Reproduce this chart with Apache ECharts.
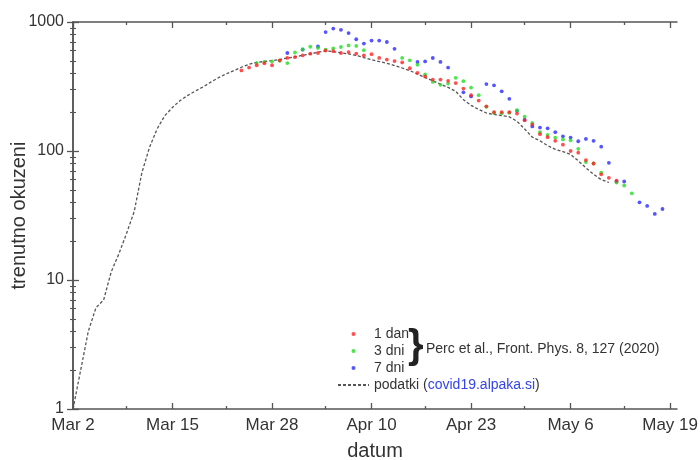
<!DOCTYPE html>
<html><head><meta charset="utf-8">
<script src="https://cdn.jsdelivr.net/npm/echarts@6/dist/echarts.min.js"></script>
<style>html,body{margin:0;padding:0;background:#fff}#c{width:700px;height:460px}</style>
</head><body><div id="c"></div>
<script>
// ---- data (x = days since Mar 2) ----
const xTickLabels = ['Mar 2', 'Mar 15', 'Mar 28', 'Apr 10', 'Apr 23', 'May 6', 'May 19'];
const xMajorTicks = [0, 13, 26, 39, 52, 65, 78];
const xMinorTicks = [7, 20, 33, 46, 59, 72];
const yMajorTicks = [1, 10, 100, 1000];
const yTickLabels = ['1', '10', '100', '1000'];

const observedStart = 0;
const observed = [1, 2, 4, 6.1, 7, 11.6, 16, 23, 34, 68, 107, 149, 188, 218, 246, 270, 292, 314, 342, 370, 396, 420, 446, 470, 486, 494, 502, 512, 525, 538, 552, 565, 583, 597, 590, 577, 566, 550, 530, 510, 494, 478, 460, 440, 420, 395, 372, 350, 330, 311, 290, 250, 226, 210, 197, 192, 188, 184, 170, 148, 128, 120, 110, 103, 99, 94, 84, 74, 66, 60, 57];

const pred1Start = 22;
const pred1 = [421, 443, 462, 479, 462, 505, 527, 534, 551, 568, 575, 600, 594, 575, 585, 568, 551, 563, 527, 511, 498, 486, 438, 404, 378, 358, 358, 350, 336, 305, 271, 246, 222, 200, 200, 200, 195, 173, 160, 135, 128, 120, 112, 100, 97, 85, 80, 66, 62, 59];

const pred3Start = 24;
const pred3 = [480, 490, 495, 500, 480, 580, 615, 643, 630, 610, 625, 640, 658, 653, 605, null, null, null, null, 527, 505, 467, 393, 343, 326, 333, 369, 348, 310, 271, 220, 198, 196, 198, 207, 185, 165, 140, 133, 127, 123, 121, 104, 82, 80, 68, null, 57, 54, 47];

const pred7Start = 28;
const pred7 = [575, null, 610, null, 646, 835, 890, 870, 820, 735, 680, 718, 718, 700, 620, null, null, 490, 495, 526, 490, 443, null, 285, 265, null, 330, 323, 290, 254, 205, 175, 155, 152, 150, 140, 130, 127, 119, 124, 120, 108, 81, 58, 58, null, 40, 37.5, 32.5, 35.5];

const citation = 'Perc et al., Front. Phys. 8, 127 (2020)';

// ---- build ----
function pairs(start, arr) {
  const out = [];
  arr.forEach((v, i) => { if (v != null) out.push([start + i, v]); });
  return out;
}

const FONT = '"Liberation Sans", Arial, sans-serif';
const AX = '#555';
const TXT = '#333';

function xAxis(pos, ticks, len, labels, line) {
  return {
    type: 'value', min: 0, max: 78.9, position: pos,
    axisLine: { show: line, lineStyle: { color: AX, width: 1.5 } },
    axisTick: { show: true, inside: true, length: len, customValues: ticks, lineStyle: { color: AX, width: 1.3 } },
    axisLabel: {
      show: labels, customValues: xMajorTicks, margin: 8,
      fontFamily: FONT, fontSize: 17, color: TXT,
      formatter: v => { const k = xMajorTicks.indexOf(v); return k >= 0 ? xTickLabels[k] : ''; }
    },
    splitLine: { show: false },
    name: labels ? 'datum' : '', nameLocation: 'middle', nameGap: 32, nameMoveOverlap: false,
    nameTextStyle: { fontFamily: FONT, fontSize: 20, color: TXT }
  };
}
function yAxis(pos, labels) {
  return {
    type: 'log', logBase: 10, min: 1, max: 1000, position: pos,
    axisLine: { show: true, lineStyle: { color: AX, width: 1.5 } },
    axisTick: { show: true, inside: true, length: 6, lineStyle: { color: AX, width: 1.3 } },
    minorTick: { show: true, splitNumber: 9, length: 3, lineStyle: { color: AX, width: 1.1 } },
    axisLabel: {
      show: labels, margin: 9,
      fontFamily: FONT, fontSize: 16, color: TXT,
      formatter: v => { const k = yMajorTicks.indexOf(Math.round(v)); return k >= 0 ? yTickLabels[k] : ''; }
    },
    splitLine: { show: false },
    name: labels ? 'trenutno okuzeni' : '', nameLocation: 'middle', nameGap: 44, nameMoveOverlap: false,
    nameTextStyle: { fontFamily: FONT, fontSize: 20, color: TXT }
  };
}

const option = {
  backgroundColor: '#fff',
  animation: false,
  grid: { left: 73, right: 23, top: 22, bottom: 51, outerBoundsMode: 'none' },
  xAxis: [
    xAxis('bottom', xMajorTicks, 6, true, true),
    xAxis('top', xMajorTicks, 6, false, true),
    xAxis('bottom', xMinorTicks, 3, false, false),
    xAxis('top', xMinorTicks, 3, false, false)
  ],
  yAxis: [
    yAxis('left', true),
    yAxis('right', false)
  ],
  legend: {
    orient: 'vertical', left: 332, top: 322, itemWidth: 31, itemHeight: 4, itemGap: 3,
    selectedMode: false,
    data: [
      { name: '1 dan' }, { name: '3 dni' }, { name: '7 dni' },
      { name: 'podatki', itemStyle: { opacity: 0 } }
    ],
    formatter: n => n === 'podatki' ? '{a|podatki (}{b|covid19.alpaka.si}{a|)}' : n,
    textStyle: {
      fontFamily: FONT, fontSize: 14, color: TXT,
      rich: {
        a: { fontFamily: FONT, fontSize: 14, color: TXT },
        b: { fontFamily: FONT, fontSize: 14, color: '#3344ee' }
      }
    }
  },
  graphic: [
    { type: 'text', left: 408, top: 327, style: { text: '}', font: 'bold 40px "Liberation Sans", Arial', fill: '#222' } },
    { type: 'text', left: 426, top: 342, style: { text: citation, font: '14px "Liberation Sans", Arial', fill: TXT } }
  ],
  series: [
    {
      name: 'podatki', type: 'line', xAxisIndex: 0, yAxisIndex: 0,
      data: pairs(observedStart, observed), symbol: 'none', showSymbol: false,
      lineStyle: { color: '#555', width: 1.3, type: [3, 2] }, z: 1
    },
    {
      name: '7 dni', type: 'scatter', xAxisIndex: 0, yAxisIndex: 0,
      data: pairs(pred7Start, pred7), symbol: 'circle', symbolSize: 3.8,
      itemStyle: { color: '#2a2aff' }, z: 2
    },
    {
      name: '3 dni', type: 'scatter', xAxisIndex: 0, yAxisIndex: 0,
      data: pairs(pred3Start, pred3), symbol: 'circle', symbolSize: 3.8,
      itemStyle: { color: '#22dd22' }, z: 3
    },
    {
      name: '1 dan', type: 'scatter', xAxisIndex: 0, yAxisIndex: 0,
      data: pairs(pred1Start, pred1), symbol: 'circle', symbolSize: 3.8,
      itemStyle: { color: '#ff2222' }, z: 4
    }
  ]
};
const chart = echarts.init(document.getElementById('c'), null, { renderer: 'canvas' });
chart.setOption(option);
</script>
</body></html>
